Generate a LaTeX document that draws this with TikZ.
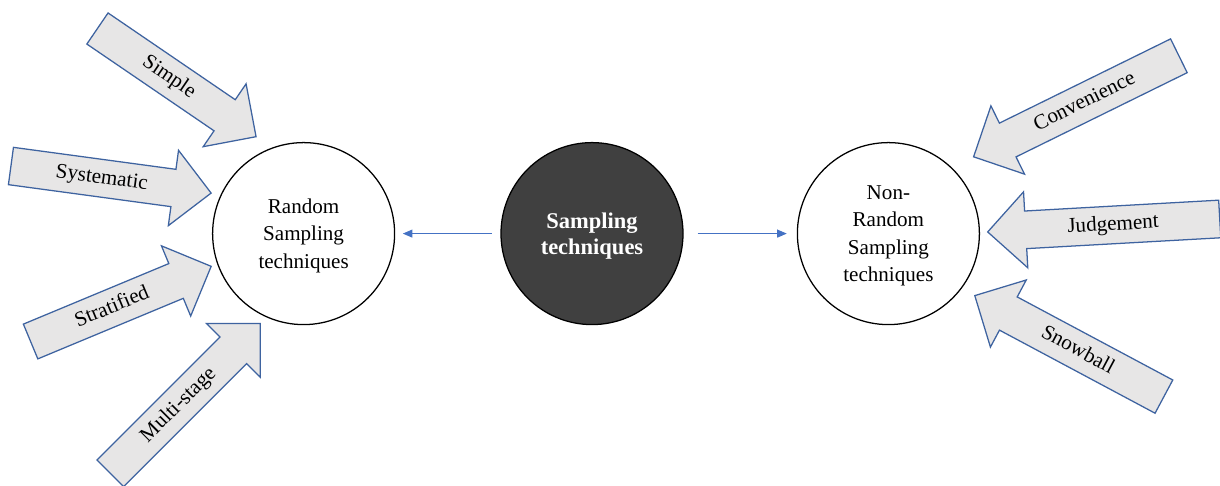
\documentclass[tikz,border=0pt]{standalone}
\usepackage{fontspec}
\setmainfont{Liberation Serif}
\usetikzlibrary{shapes.arrows,arrows.meta}
\definecolor{arrowedge}{RGB}{62,99,160}
\definecolor{arrowfill}{RGB}{231,230,230}
\definecolor{linkblue}{RGB}{68,114,196}
\definecolor{darkfill}{RGB}{64,64,64}

\begin{document}
\begin{tikzpicture}[
        method/.style={draw, circle, line width=0.9pt, minimum size=4.55cm, inner sep=0pt, align=center, text depth=-2pt, font=\fontsize{15}{19.3}\selectfont},
        root/.style={method, fill=darkfill, text=white, text depth=-3.5pt, font=\fontsize{16}{18.5}\selectfont\bfseries},
        kind/.style={single arrow, draw=arrowedge, fill=arrowfill, line width=0.9pt, anchor=tip, inner ysep=0.2cm, text height=11pt, text depth=3.5pt, single arrow head extend=0.48cm, single arrow tip angle=90, font=\fontsize{15}{18}\selectfont},
        backward/.style={kind, shape border rotate=180},
        link/.style={-{Triangle[length=0.24cm, width=0.2cm]}, line width=0.7pt, linkblue}
    ]
        \path[use as bounding box] (0, 0) rectangle (30.5, 12.15);

        \node[method] (rnd) at (7.59, 6.31) {Random\\Sampling\\techniques};
        \node[root] (ctr) at (14.8, 6.31) {Sampling\\techniques};
        \node[method] (nonrnd) at (22.21, 6.31) {Non-\\Random\\Sampling\\techniques};

        \node[kind, rotate=-34.3, minimum height=4.8cm] (simple) at (6.42, 8.72) {Simple};
        \node[kind, rotate=-7.7, minimum height=5.05cm] (systematic) at (5.3, 7.32) {Systematic};
        \node[kind, rotate=22.6, minimum height=4.89cm] (stratified) at (5.3, 5.5) {Stratified};
        \node[kind, rotate=45, minimum height=5.3cm] (multistage) at (6.52, 4.08) {Multi-stage};

        \node[backward, rotate=26.2, minimum height=5.72cm] (convenience) at (24.32, 8.22) {Convenience};
        \node[backward, rotate=3.2, minimum height=5.81cm] (judgement) at (24.67, 6.35) {Judgement};
        \node[backward, rotate=-28.1, minimum height=5.36cm] (snowball) at (24.35, 4.77) {Snowball};

        \draw[link, shorten <=0.21cm, shorten >=0.19cm] (ctr) -- (rnd);
        \draw[link, shorten <=0.35cm, shorten >=0.25cm] (ctr) -- (nonrnd);
    \end{tikzpicture}
\end{document}
